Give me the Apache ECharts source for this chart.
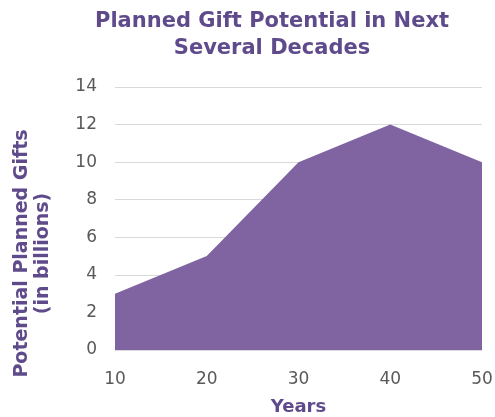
<!DOCTYPE html>
<html>
<head>
<meta charset="utf-8">
<script src="https://cdn.jsdelivr.net/npm/echarts@6/dist/echarts.min.js"></script>
<style>
  html, body { margin: 0; padding: 0; background: #fff; }
  #chart { width: 495px; height: 417px; }
</style>
</head>
<body>
<div id="chart"></div>
<script>
const years = ['10', '20', '30', '40', '50'];
const gifts = [3, 5, 10, 12, 10];

const purple = '#5f4b8b';
const font = 'DejaVu Sans, Verdana, sans-serif';
const chart = echarts.init(document.getElementById('chart'));
chart.setOption({
  animation: false,
  title: {
    text: 'Planned Gift Potential in Next\nSeveral Decades',
    left: 267,
    top: 3,
    textAlign: 'center',
    textStyle: {
      fontFamily: font,
      fontSize: 21,
      fontWeight: 'bold',
      color: purple,
      lineHeight: 27
    }
  },
  grid: { left: 115, right: 13, top: 87, bottom: 67, containLabel: false, outerBoundsMode: 'none' },
  xAxis: {
    type: 'category',
    data: years,
    boundaryGap: false,
    name: 'Years',
    nameLocation: 'middle',
    nameGap: 48,
    nameTextStyle: { fontFamily: font, fontSize: 18, fontWeight: 'bold', color: purple },
    axisLine: { lineStyle: { color: '#d9d9d9' } },
    axisTick: { show: false },
    axisLabel: { margin: 21, fontFamily: font, fontSize: 17, color: '#595959' }
  },
  yAxis: {
    type: 'value',
    min: 0,
    max: 14,
    interval: 2,
    name: 'Potential Planned Gifts\n(in billions)',
    nameLocation: 'middle',
    nameGap: 61,
    nameTextStyle: {
      fontFamily: font, fontSize: 19, fontWeight: 'bold', color: purple,
      lineHeight: 21, padding: [0, 70, 0, 0]
    },
    axisLabel: { margin: 18, fontFamily: font, fontSize: 17, color: '#595959' },
    splitLine: { lineStyle: { color: '#d9d9d9' } }
  },
  series: [{
    type: 'line',
    data: gifts,
    symbol: 'none',
    lineStyle: { width: 0 },
    itemStyle: { color: '#8064a2' },
    areaStyle: { color: '#8064a2', opacity: 1 }
  }]
});
</script>
</body>
</html>
